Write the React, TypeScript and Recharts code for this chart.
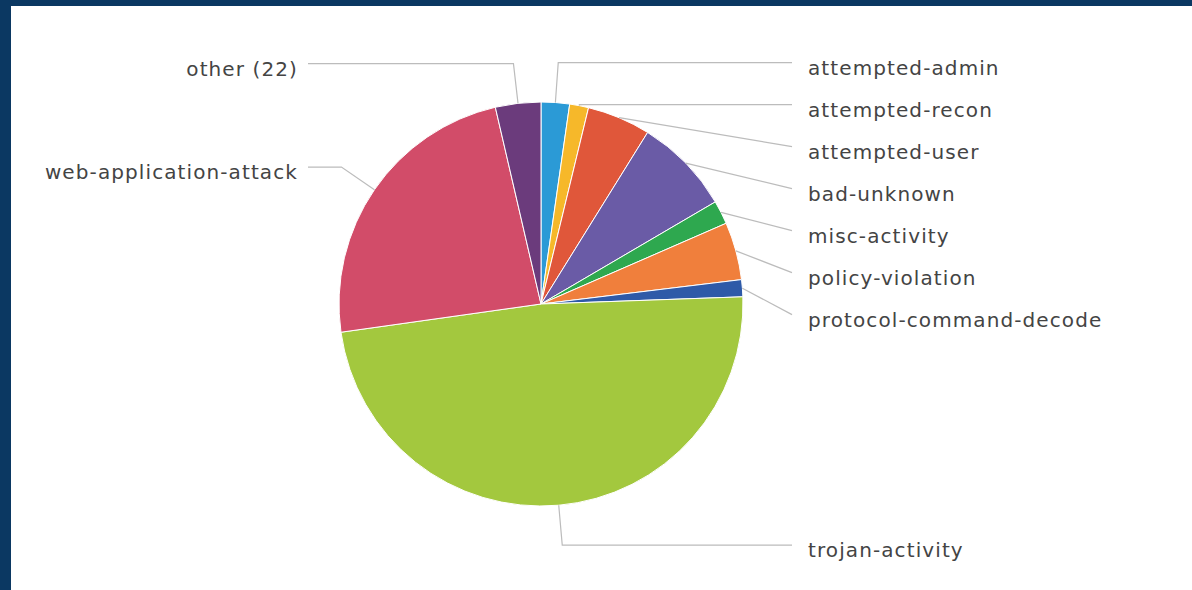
import React from 'react';
import { PieChart, Pie, Cell } from 'recharts';

const categories = [
  'attempted-admin',
  'attempted-recon',
  'attempted-user',
  'bad-unknown',
  'misc-activity',
  'policy-violation',
  'protocol-command-decode',
  'trojan-activity',
  'web-application-attack',
  'other (22)',
];
const counts = [30, 20, 67, 102, 25, 61, 18, 639, 312, 48];
const colors = [
  '#2b9ad6', '#f6b82a', '#e0573a', '#6a5ba6', '#2ea84f',
  '#f07f3c', '#2e5aa8', '#a3c83e', '#d24c69', '#6b3b7c',
];

const data = categories.map((name, i) => ({ name, value: counts[i] }));

const W = 1192;
const H = 590;
const CX = 541;
const CY = 304;
const R = 202;
const LABEL_R = R + 40;
const ROW = 42;
const RAD = Math.PI / 180;

// natural label heights from the slice angles, then pushed apart so rows don't overlap
function labelRows() {
  const total = counts.reduce((a, b) => a + b, 0);
  let cum = 0;
  const items = counts.map((v, i) => {
    const mid = ((cum + v / 2) / total) * 360;
    cum += v;
    return { i, right: mid < 180, y: CY - LABEL_R * Math.cos(mid * RAD) };
  });
  const ys: number[] = [];
  [true, false].forEach(side => {
    let prev = -Infinity;
    items
      .filter(d => d.right === side)
      .sort((a, b) => a.y - b.y)
      .forEach(d => {
        const y = Math.max(d.y, prev + ROW);
        ys[d.i] = y;
        prev = y;
      });
  });
  return ys;
}
const rows = labelRows();

const polar = (cx: number, cy: number, r: number, angle: number) => ({
  x: cx + r * Math.cos(-angle * RAD),
  y: cy + r * Math.sin(-angle * RAD),
});

function SliceLabel(props: any) {
  const { cx, cy, outerRadius, midAngle, index, name } = props;
  const y = rows[index];
  const right = Math.cos(-midAngle * RAD) >= 0;
  const edge = polar(cx, cy, outerRadius, midAngle);
  const lineX = right ? cx + 251 : cx - 233;
  // x where the slice's radial line crosses the label row
  const t = Math.tan((-midAngle - 90) * RAD);
  const crookX = cx + (cy - y) * t;
  const pts: string[] = [`${lineX},${y}`];
  const useCrook = right ? crookX <= lineX && crookX >= edge.x : crookX >= lineX && crookX <= edge.x;
  if (useCrook) pts.push(`${crookX},${y}`);
  pts.push(`${edge.x},${edge.y}`);
  return (
    <g>
      <polyline points={pts.join(' ')} fill="none" stroke="#bcbcbc" strokeWidth={1.2} />
      <text
        x={right ? lineX + 16 : lineX - 10}
        y={y + 12}
        textAnchor={right ? 'start' : 'end'}
        fontFamily="DejaVu Sans, Verdana, sans-serif"
        fontSize={20}
        letterSpacing={1.1}
        fill="#444444"
      >
        {name}
      </text>
    </g>
  );
}

export default function App() {
  return (
    <div style={{ position: 'absolute', left: 0, top: 0, width: W, height: H, background: '#0b3862', overflow: 'hidden' }}>
      <div style={{ position: 'absolute', left: 11, top: 6, width: W - 11, height: H - 6, background: '#ffffff' }} />
      <div style={{ position: 'absolute', left: 0, top: 0 }}>
        <PieChart width={W} height={H} margin={{ top: 0, right: 0, bottom: 0, left: 0 }}>
          <Pie
            data={data}
            dataKey="value"
            nameKey="name"
            cx={CX}
            cy={CY}
            outerRadius={R}
            startAngle={90}
            endAngle={-270}
            stroke="#ffffff"
            strokeWidth={1}
            label={SliceLabel}
            labelLine={false}
            isAnimationActive={false}
          >
            {data.map((d, i) => (
              <Cell key={d.name} fill={colors[i]} />
            ))}
          </Pie>
        </PieChart>
      </div>
    </div>
  );
}
